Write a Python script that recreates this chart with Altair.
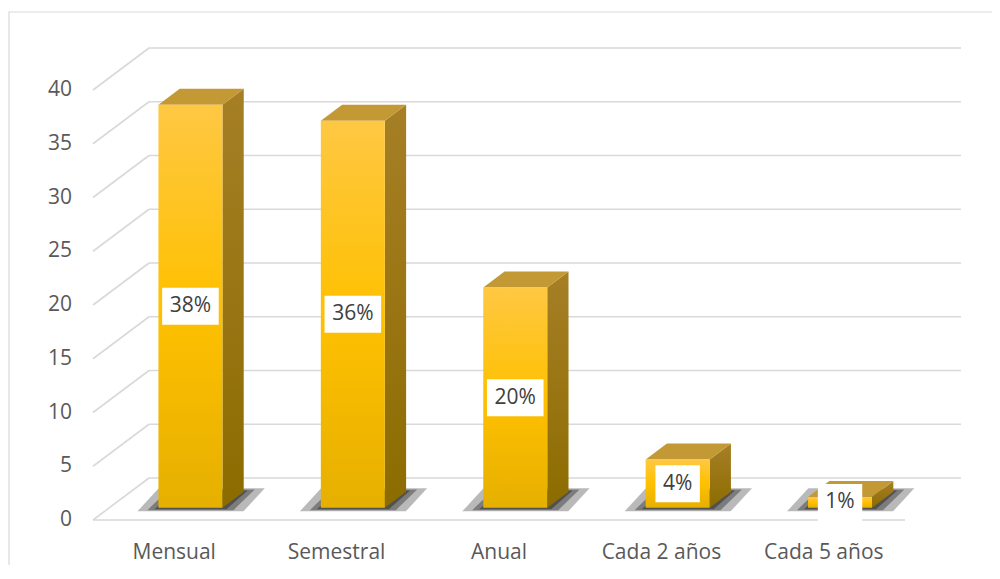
import altair as alt
import pandas as pd

# ---- data ----
categories = ["Mensual", "Semestral", "Anual", "Cada 2 años", "Cada 5 años"]
values = [37.5, 36.0, 20.5, 4.5, 1.0]
labels = ["38%", "36%", "20%", "4%", "1%"]
y_ticks = [0, 5, 10, 15, 20, 25, 30, 35, 40]

# ---- pseudo-3D geometry (style constants) ----
PX_X = 162.4          # pixels per category slot
PX_Y = 10.75          # pixels per value unit
DX = 56 / PX_X        # depth vector (x, data units)
DY = 42 / PX_Y        # depth vector (y, data units)
D0, D1 = 0.29, 0.67   # bar front / back depth fractions
BW = 64 / PX_X        # bar width
W = round((5 + DX) * PX_X)
H = round((40 + DY) * PX_Y)
n = len(categories)

x_scale = alt.Scale(domain=[0, 5 + DX], nice=False, zero=False)
y_scale = alt.Scale(domain=[0, 40 + DY], nice=False, zero=False)
FONT = "Open Sans"
FS = 21

# gridlines: back wall, left wall diagonals, floor front edge
grid_rows = []
for v in y_ticks:
    grid_rows.append(dict(x=DX, x2=5 + DX, y=v + DY, y2=v + DY))
    grid_rows.append(dict(x=0, x2=DX, y=v, y2=v + DY))
grid_rows.append(dict(x=0, x2=5, y=0, y2=0))
grid_df = pd.DataFrame(grid_rows)

ylab_df = pd.DataFrame({"x": [0] * len(y_ticks), "y": y_ticks, "t": [str(v) for v in y_ticks]})
cat_df = pd.DataFrame({"x": [i + 0.5 for i in range(n)], "y": [0] * n, "t": categories})

front_rows, side_rows, top_rows, shadow_rows, lab_rows = [], [], [], [], []
dxb = (D1 - D0) * DX
for i, (c, v, lab) in enumerate(zip(categories, values, labels)):
    L = i + 0.5 - BW / 2 + D0 * DX
    R = L + BW
    b0 = D0 * DY
    b1 = D1 * DY
    front_rows.append(dict(c=c, x=L, x2=R, y=b0, y2=v + b0))
    side_rows += [dict(c=c, x=R, y=v + b0, y2=b0), dict(c=c, x=R + dxb, y=v + b1, y2=b1)]
    top_rows += [
        dict(c=c, x=L, y=v + b0, y2=v + b0),
        dict(c=c, x=L + dxb, y=v + b1, y2=v + b0),
        dict(c=c, x=R, y=v + b1, y2=v + b0),
        dict(c=c, x=R + dxb, y=v + b1, y2=v + b1),
    ]
    for k, e in enumerate([4, 11, 21]):
        ex = e / PX_X
        ey = (1 + e * 0.12) / PX_Y
        g = f"{c}-{k}"
        shadow_rows += [
            dict(g=g, k=k, x=L - ex, y=b0 - ey, y2=b0 - ey),
            dict(g=g, k=k, x=L - ex + dxb, y=b1 + ey, y2=b0 - ey),
            dict(g=g, k=k, x=R + ex, y=b1 + ey, y2=b0 - ey),
            dict(g=g, k=k, x=R + ex + dxb, y=b1 + ey, y2=b1 + ey),
        ]
    cx = i + 0.5 + D0 * DX
    cy = b0 + v / 2
    bw = (20 + 12.2 * len(lab)) / 2 / PX_X
    bh = 18.5 / PX_Y
    lab_rows.append(dict(t=lab, x=cx, y=cy, bx=cx - bw, bx2=cx + bw, by=cy - bh, by2=cy + bh))

front_df = pd.DataFrame(front_rows)
side_df = pd.DataFrame(side_rows)
top_df = pd.DataFrame(top_rows)
shadow_df = pd.DataFrame(shadow_rows)
lab_df = pd.DataFrame(lab_rows)

X = lambda f="x": alt.X(f"{f}:Q", scale=x_scale, axis=None)
Y = lambda f="y": alt.Y(f"{f}:Q", scale=y_scale, axis=None)

border = alt.Chart(pd.DataFrame({"a": [0]})).mark_rect(
    fill="transparent", stroke="#d9d9d9", strokeWidth=1.2
).encode(x=alt.value(-84), x2=alt.value(W + 40), y=alt.value(-36), y2=alt.value(H + 70))

grid = alt.Chart(grid_df).mark_rule(color="#d9d9d9", strokeWidth=1.6).encode(
    x=X(), x2="x2:Q", y=Y(), y2="y2:Q"
)

shadow = alt.Chart(shadow_df).mark_area(color="#262626").encode(
    x=X(), y=Y(), y2="y2:Q", detail="g:N",
    opacity=alt.Opacity("k:O", scale=alt.Scale(domain=[0, 1, 2], range=[0.5, 0.32, 0.14]), legend=None),
)

side = alt.Chart(side_df).mark_area(
    color=alt.Gradient(gradient="linear", x1=0, x2=0, y1=0, y2=1,
                       stops=[alt.GradientStop(color="#a67f26", offset=0),
                              alt.GradientStop(color="#8c6c00", offset=1)]),
    line=False,
).encode(x=X(), y=Y(), y2="y2:Q", detail="c:N")

top = alt.Chart(top_df).mark_area(color="#c39935").encode(
    x=X(), y=Y(), y2="y2:Q", detail="c:N"
)

front = alt.Chart(front_df).mark_rect(
    color=alt.Gradient(gradient="linear", x1=0, x2=0, y1=0, y2=1,
                       stops=[alt.GradientStop(color="#fec843", offset=0),
                              alt.GradientStop(color="#ffc000", offset=0.5),
                              alt.GradientStop(color="#e6b000", offset=1)]),
).encode(x=X(), x2="x2:Q", y=Y(), y2="y2:Q")

boxes = alt.Chart(lab_df).mark_rect(color="white").encode(
    x=X("bx"), x2="bx2:Q", y=Y("by"), y2="by2:Q"
)
box_text = alt.Chart(lab_df).mark_text(
    font=FONT, fontSize=FS, color="#404040", baseline="middle", align="center"
).encode(x=X(), y=Y(), text="t:N")

ylabels = alt.Chart(ylab_df).mark_text(
    font=FONT, fontSize=FS, color="#595959", align="right", baseline="middle", dx=-21
).encode(x=X(), y=Y(), text="t:N")

xlabels = alt.Chart(cat_df).mark_text(
    font=FONT, fontSize=FS, color="#595959", align="center", baseline="middle", dy=33
).encode(x=X(), y=Y(), text="t:N")

chart = alt.layer(
    border, grid, shadow, side, top, front, boxes, box_text, ylabels, xlabels
).properties(
    width=W, height=H,
    padding={"left": 85, "top": 40, "right": 31, "bottom": 45},
    autosize=alt.AutoSizeParams(type="none"),
).configure_view(stroke=None)

chart.save("out.html", embed_options={"renderer": "svg", "actions": False})
